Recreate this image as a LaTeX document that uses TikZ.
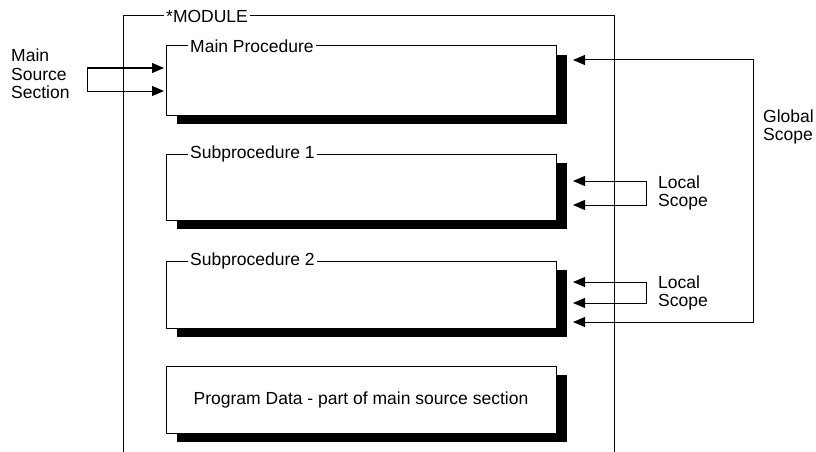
\documentclass[tikz,border=0pt]{standalone}
\usepackage{fontspec}
\setmainfont{Liberation Sans}
\usetikzlibrary{arrows.meta,calc,shadows}
\begin{document}
\begin{tikzpicture}[x=1pt,y=-1pt,
  every node/.style={font=\fontsize{17.5}{18.5}\selectfont},
  frame/.style={line width=1pt},
  procbox/.style={draw,fill=white,line width=1pt,minimum width=390pt,minimum height=68pt,
    inner sep=0pt,outer sep=0pt,anchor=north west,
    general shadow={fill=black,shadow xshift=11pt,shadow yshift=-9pt}},
  boxtitle/.style={fill=white,inner xsep=2pt,inner ysep=0pt,anchor=west},
  conn/.style={line width=1pt,{Triangle[length=12pt,width=10pt]}-{Triangle[length=12pt,width=10pt]}},
  lbl/.style={align=left,anchor=west,inner sep=0pt}]
\useasboundingbox (0,0) rectangle (816,452);

% module frame (open at the bottom)
\coordinate (modbl) at (123,452);
\coordinate (modtl) at (123,16);
\coordinate (modtr) at (614,16);
\coordinate (modbr) at (614,452);
\draw[frame] (modbl) -- (modtl) -- (modtr) -- (modbr);
\node[boxtitle] (modlbl) at (164,16) {*MODULE};

% boxes
\node[procbox,minimum height=69pt] (mp) at (166,46) {};
\node[boxtitle] (mpt) at ($(mp.north west)+(22,0)$) {Main Procedure};

\node[procbox,minimum height=66pt] (sp1) at (166,154) {};
\node[boxtitle] (sp1t) at ($(sp1.north west)+(22,0)$) {Subprocedure 1};

\node[procbox,minimum height=67pt] (sp2) at (166,261) {};
\node[boxtitle] (sp2t) at ($(sp2.north west)+(22,0)$) {Subprocedure 2};

\node[procbox,minimum height=67pt] (pd) at (166,366) {Program Data - part of main source section};

% main source section arrows
\coordinate (ms1) at ($(mp.north west)+(-2,22)$);
\coordinate (ms2) at ($(mp.north west)+(-2,45)$);
\draw[conn] (ms1) -- ++(-77,0) |- (ms2);
\node[lbl] (mslbl) at (11,74) {Main\\Source\\Section};

% global scope arrows
\coordinate (gs1) at ($(mp.north east)+(17,14)$);
\coordinate (gs2) at ($(sp2.north east)+(17,61)$);
\draw[conn] (gs1) -- ++(180,0) |- (gs2);
\node[lbl] (gslbl) at (763,127) {Global\\Scope};

% local scope arrows
\coordinate (la1) at ($(sp1.north east)+(17,27)$);
\coordinate (la2) at ($(sp1.north east)+(17,51)$);
\draw[conn] (la1) -- ++(73,0) |- (la2);
\node[lbl] (lalbl) at (658,193) {Local\\Scope};

\coordinate (lb1) at ($(sp2.north east)+(17,21)$);
\coordinate (lb2) at ($(sp2.north east)+(17,42)$);
\draw[conn] (lb1) -- ++(73,0) |- (lb2);
\node[lbl] (lblbl) at (658,293) {Local\\Scope};
\end{tikzpicture}
\end{document}
